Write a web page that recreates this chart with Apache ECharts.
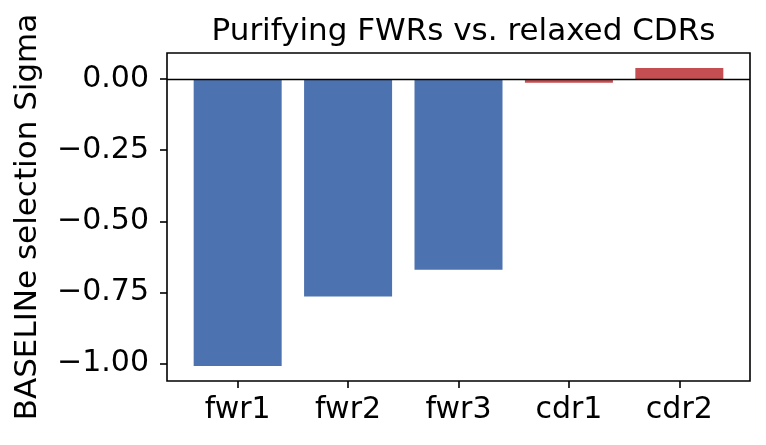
<!DOCTYPE html>
<html>
<head>
<meta charset="utf-8">
<script src="https://cdn.jsdelivr.net/npm/echarts@6/dist/echarts.min.js"></script>
<style>html,body{margin:0;padding:0;background:#fff}#c{width:766px;height:445px}</style>
</head>
<body>
<div id="c"></div>
<script>
var categories = ['fwr1', 'fwr2', 'fwr3', 'cdr1', 'cdr2'];
var sigmaValues = [-1.009, -0.764, -0.670, -0.013, 0.039];
var yTicks = [-1.0, -0.75, -0.5, -0.25, 0.0];
var xTicks = [0, 1, 2, 3, 4];
var fwrColor = '#4C72B0';
var cdrColor = '#C44E52';

var font = 'DejaVu Sans';
var chart = echarts.init(document.getElementById('c'), null, {renderer: 'canvas'});
var data = categories.map(function (c, i) {
  return {value: [i, sigmaValues[i]], itemStyle: {color: c.indexOf('cdr') === 0 ? cdrColor : fwrColor}};
});
function fmt(v) {
  var s = Math.abs(v).toFixed(2);
  return (v < -1e-9 ? '\u2212' : '') + s;
}
chart.setOption({
  animation: false,
  backgroundColor: '#fff',
  title: {
    text: 'Purifying FWRs vs. relaxed CDRs',
    left: 458.5, textAlign: 'center', top: 11,
    textStyle: {fontFamily: font, fontSize: 31, fontWeight: 'normal', color: '#000'}
  },
  grid: {left: 167, right: 16, top: 53, bottom: 64, show: true, borderColor: '#000', borderWidth: 1.6,
    backgroundColor: 'transparent', containLabel: false, outerBoundsMode: 'none'},
  xAxis: {
    type: 'value', min: -0.64, max: 4.64,
    axisLine: {show: false, onZero: false},
    splitLine: {show: false},
    axisTick: {show: true, customValues: xTicks, length: 7, lineStyle: {color: '#000', width: 1.6}},
    axisLabel: {customValues: xTicks, margin: 14, fontFamily: font, fontSize: 30, color: '#000',
      formatter: function (v) { return categories[Math.round(v)]; }}
  },
  yAxis: {
    type: 'value', min: -1.0614, max: 0.0914,
    name: 'BASELINe selection Sigma', nameLocation: 'middle', nameGap: 124,
    nameTextStyle: {fontFamily: font, fontSize: 31, color: '#000'},
    axisLine: {show: false, onZero: false},
    splitLine: {show: false},
    axisTick: {show: true, customValues: yTicks, length: 7, lineStyle: {color: '#000', width: 1.6}},
    axisLabel: {customValues: yTicks, margin: 18, fontFamily: font, fontSize: 30, color: '#000', formatter: fmt}
  },
  series: [{
    type: 'bar', barWidth: 88, data: data,
    markLine: {silent: true, symbol: 'none', label: {show: false},
      lineStyle: {color: '#000', width: 1.3, type: 'solid'}, data: [{yAxis: 0}]}
  }]
});
</script>
</body>
</html>
